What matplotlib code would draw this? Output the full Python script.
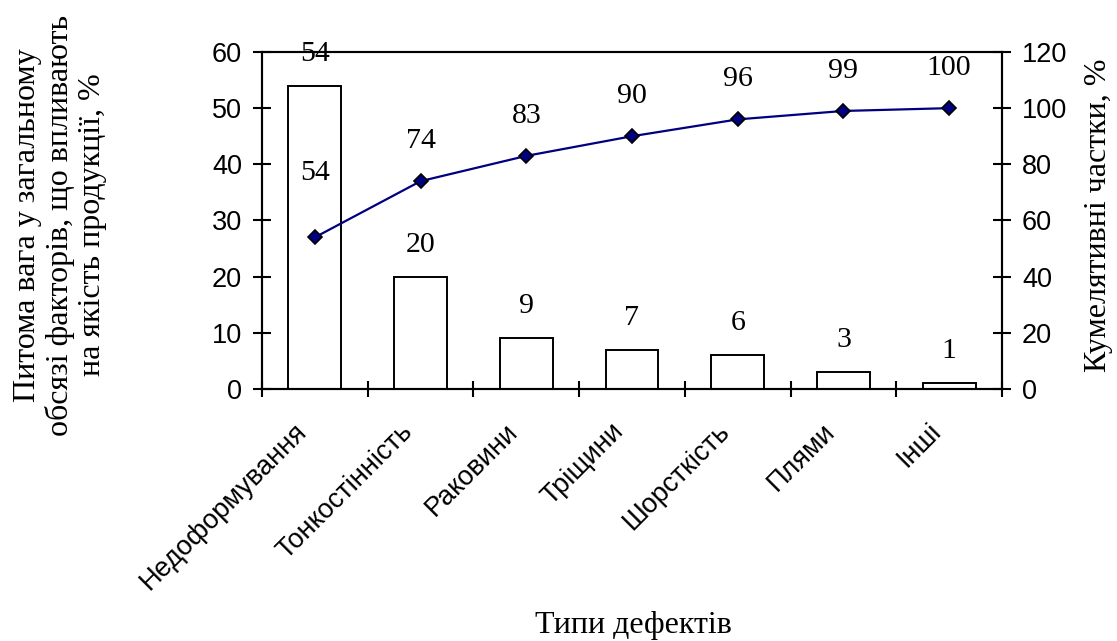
import numpy as np
import matplotlib
matplotlib.use("Agg")
import matplotlib.pyplot as plt
import matplotlib.transforms as mtransforms
from matplotlib.ticker import FixedLocator, MultipleLocator

# Pareto data for casting defects
categories = ['Недоформування', 'Тонкостінність', 'Раковини', 'Тріщини',
              'Шорсткість', 'Плями', 'Інші']
shares = [54, 20, 9, 7, 6, 3, 1]          # % of total
cumulative = [54, 74, 83, 90, 96, 99, 100]  # cumulative %

# label offsets above the marks, in points (first line label was dragged up)
bar_label_dy = [23, 23, 23, 23, 23, 23, 23]
line_label_dy = [46, 29, 29, 29, 29, 29, 29]

serif = 'Liberation Serif'
sans = 'Liberation Sans'

fig = plt.figure(figsize=(11.17, 6.41), dpi=100)
ax = fig.add_axes([0.2346, 0.3932, 0.897 - 0.2346, 0.9189 - 0.3932])
ax2 = ax.twinx()

x = np.arange(len(categories))

ax.bar(x, shares, width=0.5, color='white', edgecolor='black', linewidth=1.4, zorder=2)
ax2.plot(x, cumulative, color='#000080', linewidth=1.6, marker='D', markersize=7,
         markerfacecolor='#000080', markeredgecolor='black', markeredgewidth=1.2, zorder=3)

ax.set_xlim(-0.5, len(categories) - 0.5)
ax.set_ylim(0, 60)
ax2.set_ylim(0, 120)
ax.yaxis.set_major_locator(MultipleLocator(10))
ax2.yaxis.set_major_locator(MultipleLocator(20))

# tick marks at category boundaries, labels drawn at category centres
ax.set_xticks([])
ax.xaxis.set_minor_locator(FixedLocator(np.arange(-0.5, len(categories), 1.0)))
ax.tick_params(axis='x', which='minor', direction='inout', length=12, width=1.5)

# Excel puts the rotated label end a bit left of the category centre
offset = mtransforms.ScaledTranslation(-8.6 / 72, -27.7 / 72, fig.dpi_scale_trans)
for xi, name in zip(x, categories):
    ax.text(xi, 0, name, transform=ax.get_xaxis_transform() + offset,
            rotation=45, ha='right', va='center', rotation_mode='anchor',
            fontfamily=sans, fontsize=19.5, clip_on=False)

for a in (ax, ax2):
    a.tick_params(axis='y', direction='inout', length=13, width=1.5, labelsize=19.5, pad=8)
    for lbl in a.get_yticklabels():
        lbl.set_fontfamily(sans)
    for sp in a.spines.values():
        sp.set_linewidth(1.5)

for i, v in enumerate(shares):
    ax.annotate(str(v), (x[i], v), xytext=(0, bar_label_dy[i]), textcoords='offset points',
                ha='center', va='center', fontfamily=serif, fontsize=21.5, zorder=5)
for i, v in enumerate(cumulative):
    ax2.annotate(str(v), (x[i], v), xytext=(0, line_label_dy[i]), textcoords='offset points',
                 ha='center', va='center', fontfamily=serif, fontsize=21.5, zorder=5)

fig.text(0.0537, 0.649, 'Питома вага у загальному\nобсязі факторів, що впливають\nна якість продукції, %',
         rotation=90, ha='center', va='center', multialignment='center',
         fontfamily=serif, fontsize=23, linespacing=1.15)
fig.text(0.983, 0.6646, 'Кумелятивні частки, %', rotation=90, ha='center', va='center',
         fontfamily=serif, fontsize=23)
fig.text(0.5667, 0.0125, 'Типи дефектів', ha='center', va='baseline',
         fontfamily=serif, fontsize=23)

fig.savefig('out.png', dpi=100)
